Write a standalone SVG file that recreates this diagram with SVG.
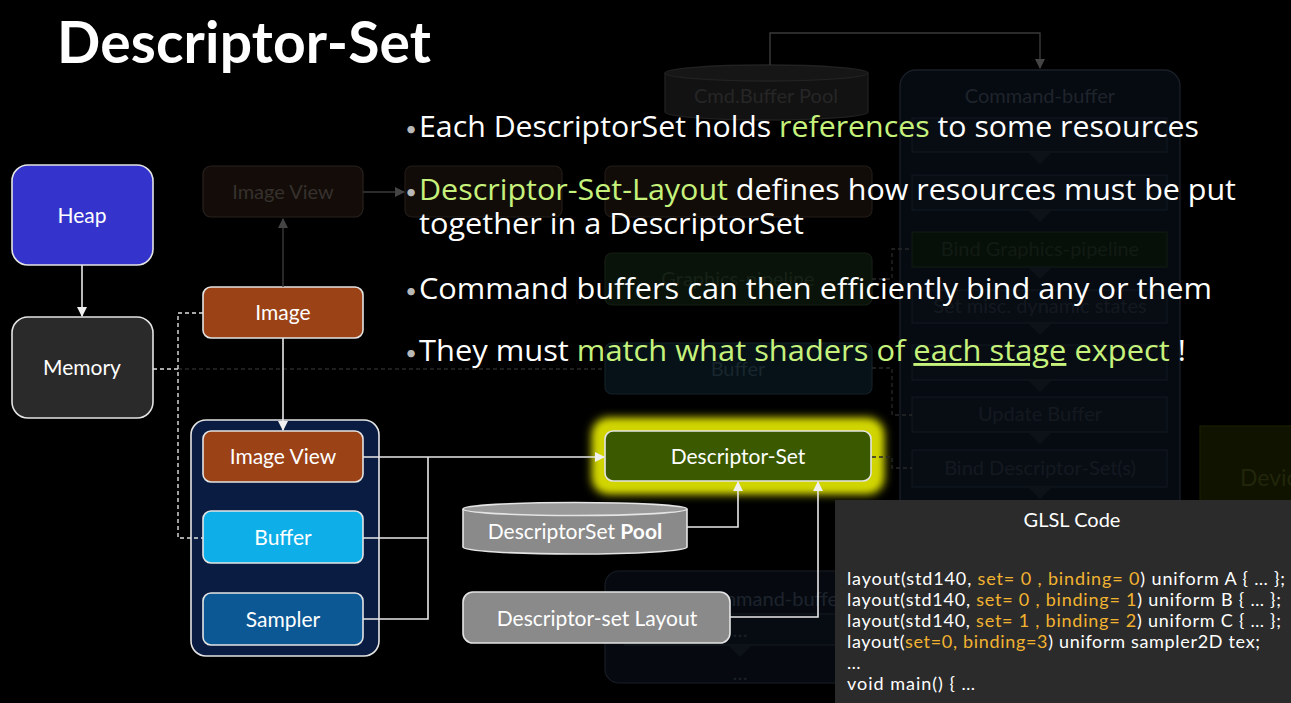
<svg xmlns="http://www.w3.org/2000/svg" width="1291" height="703" viewBox="0 0 1291 703">
<style>
text{font-family:Lato,"Open Sans","DejaVu Sans",sans-serif}
.nt{font-size:21px;fill:#ffffff;text-anchor:middle}
.ft{font-size:20px;text-anchor:middle}
.node{stroke:#e4e4e4;stroke-width:1.6}
.bul{font-family:"Open Sans",Lato,sans-serif;font-size:29px;fill:#ffffff}
.g{fill:#c6f27c}
.dot{font-size:20px;fill:#b8b8b8;text-anchor:middle}
.code{font-size:18px;fill:#ffffff}
.o{fill:#f2b330}
.wire{fill:none;stroke:#e8e8e8;stroke-width:1.6}
.fwire{fill:none;stroke:#3a3a3a;stroke-width:1.4}
.dash{fill:none;stroke:#e0e0e0;stroke-width:1.4;stroke-dasharray:4 3}
.fdash{fill:none;stroke:#282828;stroke-width:1.3;stroke-dasharray:4 3}
.cbin{fill:#080d14;stroke:#121820;stroke-width:1.2}
.cbt{fill:#141920}
</style>
<defs>
<marker id="aw" markerWidth="10" markerHeight="10" refX="9" refY="5" orient="auto" markerUnits="userSpaceOnUse"><path d="M0,0 L10,5 L0,10 z" fill="#f0f0f0"/></marker>
<marker id="af" markerWidth="10" markerHeight="10" refX="9" refY="5" orient="auto" markerUnits="userSpaceOnUse"><path d="M0,0 L10,5 L0,10 z" fill="#444"/></marker>
<filter id="glow" x="-20%" y="-60%" width="140%" height="220%"><feGaussianBlur stdDeviation="5"/></filter>
</defs>
<rect x="0" y="0" width="1291" height="703" fill="#000000"/>

<!-- faded background nodes -->
<g id="bg-cmdpool">
<path d="M665,73 L665,112 A101.5,8 0 0 0 868,112 L868,73" fill="#121212" stroke="#202020" stroke-width="1.3"/>
<ellipse cx="766.5" cy="73" rx="101.5" ry="8" fill="#161616" stroke="#222222" stroke-width="1.3"/>
<text class="ft" x="766" y="103" fill="#262626">Cmd.Buffer Pool</text>
</g>
<g id="bg-command-buffer">
<rect x="900" y="70" width="280" height="520" rx="16" fill="#060a11" stroke="#1a1f28" stroke-width="1.3"/>
<text class="ft" x="1040" y="103" fill="#1f242c">Command-buffer</text>
<rect class="cbin" x="912" y="118" width="255" height="34"/>
<rect class="cbin" x="912" y="175" width="255" height="35"/>
<rect x="912" y="232" width="255" height="35" fill="#070f09" stroke="#111913" stroke-width="1.2"/>
<text class="ft" x="1040" y="256" fill="#121b14">Bind Graphics-pipeline</text>
<rect class="cbin" x="912" y="290" width="255" height="33"/>
<text class="ft cbt" x="1040" y="313">Set misc. dynamic states</text>
<rect class="cbin" x="912" y="345" width="255" height="35"/>
<rect class="cbin" x="912" y="397" width="255" height="35"/>
<text class="ft cbt" x="1040" y="421">Update Buffer</text>
<rect class="cbin" x="912" y="450" width="255" height="37"/>
<text class="ft cbt" x="1040" y="475">Bind Descriptor-Set(s)</text>
<path d="M1028,152 L1052,152 L1040,164 z M1028,210 L1052,210 L1040,222 z M1028,267 L1052,267 L1040,279 z M1028,323 L1052,323 L1040,335 z M1028,380 L1052,380 L1040,392 z M1028,432 L1052,432 L1040,444 z M1028,487 L1052,487 L1040,499 z" fill="#0d1219"/>
</g>
<g id="bg-device">
<rect x="1200" y="426" width="110" height="110" fill="#101300" stroke="#1b1f00" stroke-width="1.2"/>
<text x="1240" y="486" font-size="23" fill="#22260a">Device</text>
</g>
<g id="bg-framebuffer">
<rect x="405" y="166" width="157" height="51" rx="7" fill="#120c08" stroke="#221c18" stroke-width="1.2"/>
</g>
<g id="bg-renderpass">
<rect x="605" y="166" width="267" height="51" rx="7" fill="#120c08" stroke="#221c18" stroke-width="1.2"/>
</g>
<g id="bg-graphics-pipeline">
<rect x="605" y="253" width="267" height="52" rx="7" fill="#091309" stroke="#161f14" stroke-width="1.2"/>
<text class="ft" x="738" y="286" fill="#172217">Graphics-pipeline</text>
</g>
<g id="bg-buffer">
<rect x="605" y="343" width="267" height="51" rx="7" fill="#061218" stroke="#142027" stroke-width="1.2"/>
<text class="ft" x="738" y="376" fill="#19262d">Buffer</text>
</g>
<g id="bg-secondary">
<rect x="605" y="571" width="267" height="112" rx="14" fill="#060a10" stroke="#181d25" stroke-width="1.2"/>
<text class="ft" x="722" y="606" font-size="22" fill="#1d232d">Secondary Command-buffer</text>
<rect x="625" y="614" width="230" height="31" fill="#070c13" stroke="#151a22" stroke-width="1.1"/>
<text class="ft" x="740" y="637" fill="#1b2029">…</text>
<path d="M728,645 L752,645 L740,657 z" fill="#0d1219"/>
<text class="ft" x="740" y="680" fill="#1b2029">…</text>
</g>
<g id="bg-imageview">
<rect x="203" y="166" width="160" height="51" rx="8" fill="#130c08" stroke="#28221e" stroke-width="1.2"/>
<text class="ft" x="283" y="199" fill="#36312d">Image View</text>
</g>

<!-- main nodes -->
<g id="heap">
<rect class="node" x="12" y="165" width="141" height="100" rx="16" fill="#3434cc"/>
<text class="nt" x="82" y="223">Heap</text>
</g>
<g id="memory">
<rect class="node" x="12" y="317" width="141" height="101" rx="16" fill="#2a2a2a"/>
<text class="nt" x="82" y="375">Memory</text>
</g>
<g id="image">
<rect class="node" x="203" y="287" width="160" height="51" rx="8" fill="#9b4216"/>
<text class="nt" x="283" y="320">Image</text>
</g>
<g id="resources">
<rect class="node" x="191" y="420" width="188" height="236" rx="15" fill="#0b1c42"/>
<g id="image-view">
<rect class="node" x="203" y="431" width="160" height="51" rx="8" fill="#9b4216"/>
<text class="nt" x="283" y="464">Image View</text>
</g>
<g id="buffer">
<rect class="node" x="203" y="511" width="160" height="52" rx="8" fill="#0eaee8"/>
<text class="nt" x="283" y="545">Buffer</text>
</g>
<g id="sampler">
<rect class="node" x="203" y="593" width="160" height="52" rx="8" fill="#0b5895"/>
<text class="nt" x="283" y="627">Sampler</text>
</g>
</g>
<g id="descriptor-set">
<rect x="592" y="418" width="292" height="76" rx="16" fill="#d8dc00" filter="url(#glow)"/>
<rect x="598" y="424" width="280" height="64" rx="12" fill="#cfd300" filter="url(#glow)"/>
<rect class="node" x="605" y="431" width="266" height="50" rx="8" fill="#3b5a00" stroke="#f4f4f4"/>
<text class="nt" x="738" y="464">Descriptor-Set</text>
</g>
<g id="descriptorset-pool">
<path d="M463,509 L463,547 A112,7 0 0 0 687,547 L687,509" fill="#8a8a8a" stroke="#e4e4e4" stroke-width="1.6"/>
<ellipse cx="575" cy="509" rx="112" ry="6.5" fill="#9a9a9a" stroke="#e4e4e4" stroke-width="1.6"/>
<text x="575" y="539" font-size="21" fill="#ffffff" text-anchor="middle">DescriptorSet <tspan font-weight="bold">Pool</tspan></text>
</g>
<g id="descriptor-set-layout">
<rect class="node" x="463" y="592" width="267" height="51" rx="10" fill="#8a8a8a" stroke="#f0f0f0" stroke-width="2"/>
<text class="nt" x="597" y="626">Descriptor-set Layout</text>
</g>

<!-- connectors -->
<g id="connectors">
<path class="fwire" d="M770,65 V33 H1040 V68" marker-end="url(#af)"/>
<path class="fwire" d="M283,287 V219" marker-end="url(#af)"/>
<path class="fwire" d="M363,192 H404" marker-end="url(#af)"/>
<path class="fdash" d="M178,369 H605"/>
<path class="fdash" d="M872,279 H892 V249 H912 M872,368 H892 V415 H912 M872,457 H892 V468 H912"/>
<path class="wire" d="M82,265 V316" marker-end="url(#aw)"/>
<path class="wire" d="M283,338 V430" marker-end="url(#aw)"/>
<path class="dash" d="M153,369 H178 M203,313 H178 V538 H203"/>
<path class="wire" d="M363,457 H428 M363,538 H428 M363,619 H428 V457"/>
<path class="wire" d="M428,457 H604" marker-end="url(#aw)"/>
<path class="wire" d="M687,527 H738 V482" marker-end="url(#aw)"/>
<path class="wire" d="M730,617 H818 V482" marker-end="url(#aw)"/>
</g>

<!-- GLSL code box -->
<g id="glsl-code">
<rect x="835" y="500" width="460" height="210" fill="#2b2b2b"/>
<text x="1072" y="527" font-size="20" fill="#ffffff" text-anchor="middle">GLSL Code</text>
<text class="code" x="847" y="585" textLength="438">layout(std140, <tspan class="o">set= 0 , binding= 0</tspan>) uniform A { … };</text>
<text class="code" x="847" y="606" textLength="434">layout(std140, <tspan class="o">set= 0 , binding= 1</tspan>) uniform B { … };</text>
<text class="code" x="847" y="627" textLength="434">layout(std140, <tspan class="o">set= 1 , binding= 2</tspan>) uniform C { … };</text>
<text class="code" x="847" y="648" textLength="413">layout(<tspan class="o">set=0, binding=3</tspan>) uniform sampler2D tex;</text>
<text class="code" x="847" y="669">…</text>
<text class="code" x="847" y="690" textLength="128">void main() { …</text>
</g>

<!-- title and bullets -->
<g id="title">
<text x="57" y="63" font-size="57" font-weight="bold" fill="#ffffff" textLength="374">Descriptor-Set</text>
</g>
<g id="bullets">
<text class="dot" x="411" y="136">•</text>
<text class="bul" x="419" y="137" textLength="780" lengthAdjust="spacingAndGlyphs">Each DescriptorSet holds <tspan class="g">references</tspan> to some resources</text>
<text class="dot" x="411" y="199">•</text>
<text class="bul" x="419" y="200" textLength="817" lengthAdjust="spacingAndGlyphs"><tspan class="g">Descriptor-Set-Layout</tspan> defines how resources must be put</text>
<text class="bul" x="419" y="234" textLength="385" lengthAdjust="spacingAndGlyphs">together in a DescriptorSet</text>
<text class="dot" x="411" y="298">•</text>
<text class="bul" x="419" y="299" textLength="793" lengthAdjust="spacingAndGlyphs">Command buffers can then efficiently bind any or them</text>
<text class="dot" x="411" y="360">•</text>
<text class="bul" x="419" y="361" textLength="767" lengthAdjust="spacingAndGlyphs">They must <tspan class="g">match what shaders of </tspan><tspan class="g" text-decoration="underline">each stage</tspan><tspan class="g"> expect</tspan> !</text>
</g>
</svg>
